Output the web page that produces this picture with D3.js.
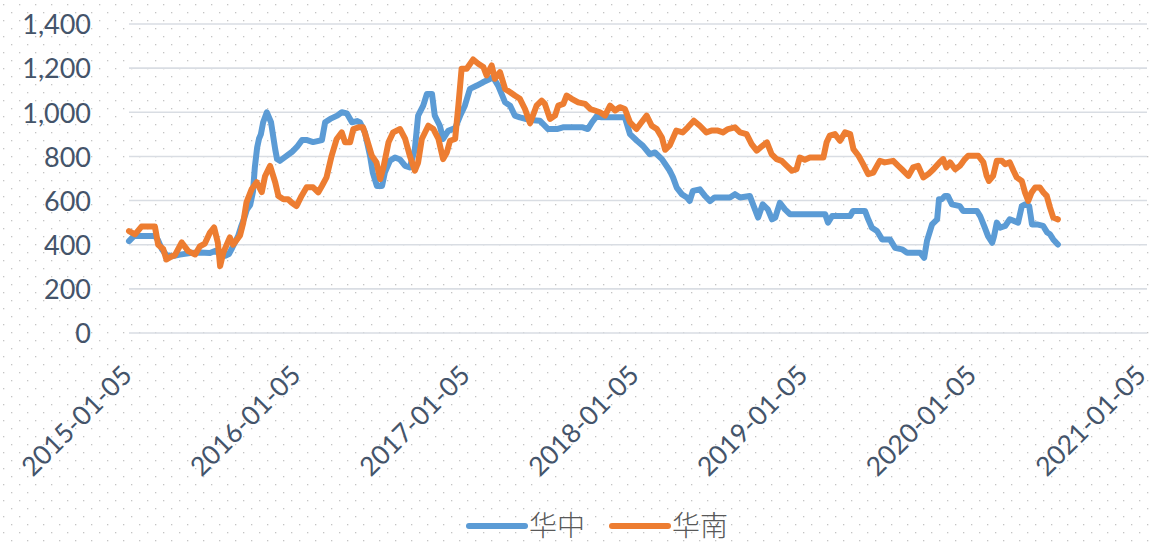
<!DOCTYPE html>
<html>
<head>
<meta charset="utf-8">
<script src="https://cdn.jsdelivr.net/npm/d3@7"></script>
<style>
  html, body { margin: 0; padding: 0; background: #ffffff; }
  svg { display: block; }
</style>
</head>
<body>
<svg id="chart" width="1151" height="548"></svg>
<script>
// Weekly price series, 华中 (central) and 华南 (south), yuan/ton
const seriesNames = ["华中", "华南"];
const seriesColors = ["#5b9bd5", "#ed7d31"];

const centralDates = [
  "2015-01-05","2015-01-16","2015-03-02","2015-03-09","2015-03-17","2015-03-26","2015-04-08","2015-04-25",
  "2015-05-17","2015-06-07","2015-06-29","2015-07-10","2015-07-21","2015-08-01","2015-08-09","2015-08-16",
  "2015-08-22","2015-08-29","2015-09-04","2015-09-11","2015-09-17","2015-09-24","2015-09-30","2015-10-04",
  "2015-10-09","2015-10-13","2015-10-17","2015-10-22","2015-10-30","2015-11-08","2015-11-17","2015-11-21",
  "2015-11-27","2015-12-08","2015-12-23","2016-01-03","2016-01-14","2016-01-25","2016-02-07","2016-02-26",
  "2016-03-04","2016-03-15","2016-03-30","2016-04-09","2016-04-20","2016-05-01","2016-05-12","2016-05-18",
  "2016-05-29","2016-06-09","2016-06-15","2016-06-24","2016-07-05","2016-07-11","2016-07-22","2016-08-02",
  "2016-08-13","2016-08-24","2016-09-03","2016-09-14","2016-09-21","2016-10-02","2016-10-10","2016-10-21",
  "2016-10-27","2016-11-07","2016-11-14","2016-11-25","2016-12-10","2016-12-21","2016-12-31","2017-01-11",
  "2017-01-26","2017-02-08","2017-02-23","2017-03-02","2017-03-13","2017-03-28","2017-04-08","2017-04-18",
  "2017-04-29","2017-05-21","2017-06-11","2017-06-29","2017-07-18","2017-07-31","2017-09-12","2017-09-23",
  "2017-10-02","2017-10-13","2017-10-23","2017-12-12","2017-12-23","2018-01-07","2018-01-20","2018-02-04",
  "2018-02-15","2018-03-02","2018-03-19","2018-03-26","2018-04-03","2018-04-14","2018-04-25","2018-05-01",
  "2018-05-08","2018-05-23","2018-06-03","2018-06-14","2018-06-24","2018-07-27","2018-08-07","2018-08-18",
  "2018-09-08","2018-09-15","2018-09-26","2018-10-06","2018-10-17","2018-10-26","2018-11-02","2018-11-12",
  "2018-11-23","2018-12-04","2019-02-18","2019-02-24","2019-03-05","2019-04-13","2019-04-19","2019-05-15",
  "2019-05-22","2019-05-30","2019-06-10","2019-06-21","2019-07-08","2019-07-19","2019-08-03","2019-08-14",
  "2019-09-11","2019-09-20","2019-09-26","2019-10-07","2019-10-18","2019-10-22","2019-10-28","2019-11-04",
  "2019-11-10","2019-11-19","2019-12-06","2019-12-13","2020-01-12","2020-01-19","2020-01-29","2020-02-05",
  "2020-02-14","2020-02-18","2020-02-24","2020-03-02","2020-03-13","2020-03-23","2020-04-10","2020-04-18",
  "2020-04-25","2020-05-04","2020-05-10","2020-05-21","2020-06-03","2020-06-12","2020-06-18","2020-06-25",
  "2020-07-05"
];
const centralPrices = [
  416, 440, 440, 420, 380, 355, 348, 355,
  362, 365, 362, 372, 358, 350, 358, 385,
  410, 440, 480, 520, 560, 580, 640, 750,
  840, 880, 900, 955, 1000, 955, 833, 788,
  780, 797, 820, 843, 874, 874, 865, 874,
  955, 970, 985, 1000, 995, 955, 960, 955,
  909, 803, 727, 666, 666, 727, 780, 795,
  786, 757, 750, 833, 985, 1030, 1083, 1083,
  985, 939, 879, 916, 928, 985, 1030, 1106,
  1121, 1136, 1151, 1159, 1121, 1045, 1030, 985,
  977, 965, 962, 924, 924, 932, 932, 924,
  955, 985, 977, 977, 901, 871, 848, 810,
  818, 788, 735, 705, 659, 629, 614, 598,
  644, 651, 621, 598, 614, 614, 629, 614,
  621, 583, 523, 583, 560, 515, 523, 590,
  560, 538, 538, 500, 530, 530, 553, 553,
  515, 477, 462, 424, 424, 386, 379, 364,
  364, 341, 417, 492, 515, 606, 606, 621,
  621, 583, 575, 553, 553, 530, 477, 439,
  409, 439, 500, 477, 485, 515, 500, 575,
  583, 575, 492, 492, 485, 455, 447, 424,
  401
];

const southDates = [
  "2015-01-05","2015-01-18","2015-02-01","2015-03-02","2015-03-09","2015-03-20","2015-03-27","2015-04-07",
  "2015-04-14","2015-04-29","2015-05-13","2015-05-28","2015-06-07","2015-06-18","2015-06-29","2015-07-08",
  "2015-07-16","2015-07-21","2015-07-28","2015-08-11","2015-08-18","2015-09-02","2015-09-09","2015-09-16",
  "2015-09-27","2015-10-08","2015-10-19","2015-10-26","2015-11-06","2015-11-17","2015-11-24","2015-12-05",
  "2015-12-15","2015-12-23","2016-01-02","2016-01-13","2016-01-24","2016-02-07","2016-02-18","2016-02-26",
  "2016-03-07","2016-03-18","2016-03-29","2016-04-09","2016-04-16","2016-04-27","2016-05-04","2016-05-15",
  "2016-05-25","2016-06-02","2016-06-13","2016-06-23","2016-07-01","2016-07-08","2016-07-19","2016-07-29",
  "2016-08-13","2016-08-24","2016-09-03","2016-09-14","2016-09-21","2016-09-29","2016-10-13","2016-10-24",
  "2016-11-04","2016-11-14","2016-11-22","2016-11-29","2016-12-10","2016-12-17","2016-12-24","2017-01-04",
  "2017-01-18","2017-01-29","2017-02-09","2017-02-16","2017-02-27","2017-03-06","2017-03-17","2017-03-28",
  "2017-04-08","2017-04-18","2017-04-29","2017-05-10","2017-05-21","2017-06-04","2017-06-15","2017-06-22",
  "2017-07-03","2017-07-14","2017-07-21","2017-08-01","2017-08-08","2017-08-19","2017-09-02","2017-09-17",
  "2017-09-28","2017-10-08","2017-10-19","2017-10-30","2017-11-10","2017-11-21","2017-12-01","2017-12-12",
  "2017-12-23","2018-01-06","2018-01-17","2018-01-28","2018-02-08","2018-02-19","2018-03-02","2018-03-09",
  "2018-03-19","2018-04-02","2018-04-16","2018-04-27","2018-05-10","2018-05-23","2018-06-06","2018-06-17",
  "2018-07-01","2018-07-12","2018-07-23","2018-08-07","2018-08-18","2018-09-01","2018-09-12","2018-09-23",
  "2018-10-04","2018-10-15","2018-10-25","2018-11-05","2018-11-16","2018-11-27","2018-12-08","2018-12-18",
  "2018-12-25","2019-01-05","2019-01-16","2019-02-14","2019-02-21","2019-02-28","2019-03-11","2019-03-22",
  "2019-04-02","2019-04-13","2019-04-20","2019-05-01","2019-05-11","2019-05-22","2019-06-02","2019-06-16",
  "2019-06-27","2019-07-15","2019-07-26","2019-08-06","2019-08-17","2019-08-27","2019-09-07","2019-09-18",
  "2019-09-29","2019-10-10","2019-10-24","2019-10-31","2019-11-07","2019-11-15","2019-11-26","2019-12-06",
  "2019-12-17","2019-12-24","2020-01-15","2020-01-26","2020-02-02","2020-02-07","2020-02-16","2020-02-24",
  "2020-03-06","2020-03-13","2020-03-23","2020-03-31","2020-04-07","2020-04-18","2020-04-25","2020-05-02",
  "2020-05-09","2020-05-17","2020-05-27","2020-06-04","2020-06-11","2020-06-18","2020-06-25","2020-07-05"
];
const southPrices = [
  462, 447, 482, 482, 400, 380, 333, 347,
  352, 410, 371, 356, 392, 405, 455, 478,
  410, 303, 365, 433, 400, 442, 500, 592,
  651, 683, 638, 710, 757, 683, 621, 606,
  606, 590, 575, 621, 660, 660, 637, 666,
  705, 803, 879, 909, 864, 864, 924, 932,
  932, 879, 803, 773, 697, 750, 864, 909,
  924, 879, 803, 735, 773, 879, 939, 924,
  879, 788, 818, 871, 879, 1030, 1197, 1197,
  1239, 1220, 1205, 1167, 1212, 1152, 1182, 1106,
  1091, 1076, 1061, 1015, 950, 1030, 1053, 1038,
  970, 985, 1030, 1038, 1076, 1061, 1045, 1038,
  1015, 1008, 1000, 985, 1030, 1008, 1023, 1015,
  955, 924, 955, 985, 939, 924, 886, 830,
  850, 917, 909, 932, 962, 939, 909, 917,
  917, 909, 924, 932, 909, 901, 856, 826,
  846, 864, 811, 788, 780, 757, 735, 742,
  795, 785, 795, 795, 864, 894, 901, 871,
  909, 901, 833, 803, 765, 720, 727, 780,
  773, 780, 757, 735, 712, 750, 757, 705,
  720, 742, 775, 788, 750, 773, 742, 757,
  788, 803, 803, 773, 712, 689, 712, 780,
  780, 765, 773, 735, 705, 689, 636, 598,
  636, 659, 659, 636, 621, 568, 523, 515
];

const yTicks = [0, 200, 400, 600, 800, 1000, 1200, 1400];
const xTickLabels = ["2015-01-05","2016-01-05","2017-01-05","2018-01-05","2019-01-05","2020-01-05","2021-01-05"];

const parse = d3.timeParse("%Y-%m-%d");
const fmt = d3.timeFormat("%Y-%m-%d");
const series = [
  centralDates.map((d, i) => ({ date: parse(d), value: centralPrices[i] })),
  southDates.map((d, i) => ({ date: parse(d), value: southPrices[i] }))
];

const svg = d3.select("#chart");
const W = 1151, H = 548;
const plot = { left: 129, right: 1147, top: 24, bottom: 333 };
const labelColor = "#44546a";
const labelFont = "Lato, 'Open Sans', sans-serif";

// Chart-area fill: white with a fine dotted pattern
const defs = svg.append("defs");
const pat = defs.append("pattern")
  .attr("id", "dots").attr("patternUnits", "userSpaceOnUse")
  .attr("width", 16).attr("height", 16);
pat.append("rect").attr("width", 16).attr("height", 16).attr("fill", "#ffffff");
pat.append("rect").attr("x", 3).attr("y", 4).attr("width", 1.3).attr("height", 1.3).attr("fill", "#c4c4c4");
pat.append("rect").attr("x", 11).attr("y", 12).attr("width", 1.3).attr("height", 1.3).attr("fill", "#c4c4c4");
svg.append("rect").attr("width", W).attr("height", H).attr("fill", "url(#dots)");

const x = d3.scaleTime()
  .domain([parse(xTickLabels[0]), parse(xTickLabels[xTickLabels.length - 1])])
  .range([plot.left, 1143]);
const y = d3.scaleLinear().domain([0, 1400]).range([plot.bottom, plot.top]);

// Horizontal gridlines
svg.append("g")
  .selectAll("line").data(yTicks).join("line")
  .attr("x1", plot.left).attr("x2", plot.right)
  .attr("y1", d => y(d)).attr("y2", d => y(d))
  .attr("stroke", "#d9dde3").attr("stroke-width", 1.6);

// Y axis labels
const yAxis = d3.axisLeft(y).tickValues(yTicks).tickFormat(d3.format(",")).tickSize(0).tickPadding(0);
const gy = svg.append("g").attr("transform", `translate(91,0)`).call(yAxis);
gy.select(".domain").remove();
gy.selectAll("text")
  .attr("fill", labelColor).attr("font-family", labelFont).attr("font-size", 27)
  .attr("dy", "0.36em");

// X axis labels, rotated
const xAxis = d3.axisBottom(x).tickValues(xTickLabels.map(parse)).tickFormat(fmt).tickSize(0).tickPadding(0);
const gx = svg.append("g").attr("transform", `translate(0,${plot.bottom})`).call(xAxis);
gx.select(".domain").remove();
gx.selectAll("text")
  .attr("fill", labelColor).attr("font-family", labelFont).attr("font-size", 26.5)
  .attr("text-anchor", "end")
  .attr("dy", 0)
  .attr("transform", "translate(4,44) rotate(-45)");

// Series lines
const line = d3.line().x(d => x(d.date)).y(d => y(d.value));
svg.append("g").selectAll("path").data(series).join("path")
  .attr("d", line)
  .attr("fill", "none")
  .attr("stroke", (d, i) => seriesColors[i])
  .attr("stroke-width", 6)
  .attr("stroke-linejoin", "round")
  .attr("stroke-linecap", "round");

// Legend
const legendItems = [{ x: 469 }, { x: 612 }];
const lg = svg.append("g");
legendItems.forEach((it, i) => {
  lg.append("line")
    .attr("x1", it.x).attr("x2", it.x + 56)
    .attr("y1", 526).attr("y2", 526)
    .attr("stroke", seriesColors[i]).attr("stroke-width", 6)
    .attr("stroke-linecap", "round");
  lg.append("text")
    .attr("x", it.x + 60).attr("y", 536)
    .attr("font-family", "'Noto Sans CJK SC', sans-serif")
    .attr("font-size", 28).attr("font-weight", 300)
    .attr("fill", "#595959")
    .text(seriesNames[i]);
});
</script>
</body>
</html>
